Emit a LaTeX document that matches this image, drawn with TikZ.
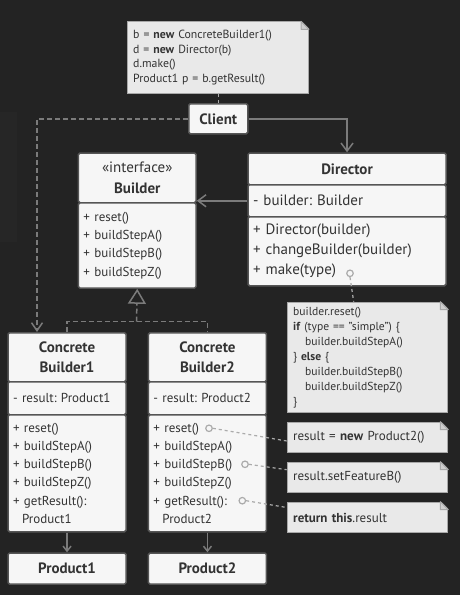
\documentclass[tikz,border=0pt]{standalone}
\usepackage{fontspec}
\setmainfont{PT Sans}
\usetikzlibrary{arrows.meta}

\definecolor{bgcol}{HTML}{232323}
\definecolor{bgshade}{HTML}{262626}
\definecolor{boxfill}{HTML}{F6F6F6}
\definecolor{boxline}{HTML}{555555}
\definecolor{txt}{HTML}{333333}
\definecolor{conn}{HTML}{7B7B7B}
\definecolor{notefill}{HTML}{E9E9E9}
\definecolor{noteline}{HTML}{A8A8A8}
\definecolor{foldfill}{HTML}{CFCFCF}
\definecolor{dotline}{HTML}{ABABAB}

\tikzset{Part/.style = {draw = boxline, fill = boxfill, line width = 1.5pt,
    rounded corners = 1.5pt, anchor = north west, inner xsep = 5pt,
    inner ysep = 0pt, text = txt, align = left,
    font = \fontsize{13}{18.3}\selectfont}}
\tikzset{Head/.style = {Part, align = center,
    font = \fontsize{15}{19.5}\selectfont\bfseries}}
\tikzset{Note/.style = {draw = noteline, fill = notefill, line width = 1pt,
    anchor = north west, inner xsep = 6pt, inner ysep = 0pt, text = txt,
    align = left}}
\tikzset{Dot/.style = {circle, draw = dotline, fill = boxfill, line width = 1.2pt,
    minimum size = 6.5pt, inner sep = 0pt}}
\tikzset{Conn/.style = {draw = conn, line width = 1.5pt}}
\tikzset{Assoc/.style = {Conn, -{Straight Barb[length = 8pt, width = 12pt]}}}
\tikzset{Dep/.style = {Conn, dash pattern = on 5pt off 3pt,
    -{Straight Barb[length = 8pt, width = 11pt]}}}
\tikzset{Hier/.style = {Conn, dash pattern = on 5pt off 3pt}}
\tikzset{Inherit/.style = {Hier, -{Triangle[open, length = 15pt, width = 18pt]}}}
\tikzset{Makes/.style = {Conn, -{Straight Barb[length = 5pt, width = 8pt]}}}
\tikzset{NoteLink/.style = {draw = dotline, line width = 1.2pt,
    dash pattern = on 3pt off 3pt}}

\begin{document}
\frenchspacing
\begin{tikzpicture}[x = 1pt, y = -1pt]
  \useasboundingbox[fill = bgcol] (0, 0) rectangle (460, 595);
  \fill[bgshade] (0, 111.7) rectangle (16.7, 241.7);

  % client and its note
  \node[Note, text width = 169.3pt, minimum height = 71.7pt,
  font = \fontsize{11.8}{14.5}\selectfont] (n1) at (126.7, 21.3)
  {b = \textbf{new} ConcreteBuilder1()\\ d = \textbf{new} Director(b)\\
    d.make()\\ Product1 p = b.getResult()};
  \node[Head, text width = 49pt, minimum height = 30pt] (client) at (188, 103)
  {Client};

  % builder interface
  \node[Part, align = center, text width = 107.6pt, minimum height = 49.7pt,
  font = \fontsize{15}{21}\selectfont] (bhead) at (77.7, 152.3)
  {«interface»\\ \textbf{Builder}};
  \node[Part, text width = 107.6pt, minimum height = 85.3pt] (bmeth)
  at (77.7, 202) {+ reset()\\ + buildStepA()\\ + buildStepB()\\ + buildStepZ()};

  % director
  \node[Head, text width = 188pt, minimum height = 31.7pt] (dhead)
  at (247.3, 152.3) {Director};
  \node[Part, text width = 188pt, minimum height = 32pt,
  font = \fontsize{15}{20}\selectfont] (dattr) at (247.3, 184)
  {- builder: Builder};
  \node[Part, text width = 188pt, minimum height = 69pt,
  font = \fontsize{15}{20}\selectfont] (dmeth) at (247.3, 216)
  {+ Director(builder)\\ + changeBuilder(builder)\\ + make(type)};
  \node[Dot] (mk) at (350, 273.3) {};

  % concrete builders
  \node[Head, text width = 108pt, minimum height = 49pt] (cb1head) at (7.3, 332)
  {Concrete\\ Builder1};
  \node[Part, text width = 108pt, minimum height = 33pt] (cb1attr) at (7.3, 381)
  {- result: Product1};
  \node[Part, text width = 108pt, minimum height = 117pt] (cb1meth)
  at (7.3, 414) {+ reset()\\ + buildStepA()\\ + buildStepB()\\
    + buildStepZ()\\ + getResult():\\ \hspace*{9pt}Product1};

  \node[Head, text width = 108pt, minimum height = 49pt] (cb2head)
  at (147.7, 332) {Concrete\\ Builder2};
  \node[Part, text width = 108pt, minimum height = 33pt] (cb2attr)
  at (147.7, 381) {- result: Product2};
  \node[Part, text width = 108pt, minimum height = 117pt] (cb2meth)
  at (147.7, 414) {+ reset()\\ + buildStepA()\\ + buildStepB()\\
    + buildStepZ()\\ + getResult():\\ \hspace*{9pt}Product2};
  \node[Dot] (rst) at (209, 428.3) {};
  \node[Dot] (stb) at (245, 464.3) {};
  \node[Dot] (grs) at (242.3, 500.7) {};

  % products
  \node[Head, text width = 108pt, minimum height = 31pt] (prod1) at (7.3, 552.3)
  {Product1};
  \node[Head, text width = 108pt, minimum height = 31pt] (prod2)
  at (147.7, 552.3) {Product2};

  % notes on the right
  \node[Note, text width = 148.6pt, minimum height = 110.6pt,
  font = \fontsize{11.6}{15}\selectfont] (n2) at (286.7, 301.7)
  {builder.reset()\\ \textbf{if} (type == "simple") \{\\
    \hspace*{12pt}builder.buildStepA()\\ \} \textbf{else} \{\\
    \hspace*{12pt}builder.buildStepB()\\ \hspace*{12pt}builder.buildStepZ()\\ \}};
  \node[Note, text width = 148.6pt, minimum height = 30.6pt,
  font = \fontsize{13}{16}\selectfont] (n3) at (286.7, 421.7)
  {result = \textbf{new} Product2()};
  \node[Note, text width = 148.6pt, minimum height = 30pt,
  font = \fontsize{13}{16}\selectfont] (n4) at (286.7, 461.7)
  {result.setFeatureB()};
  \node[Note, text width = 148.6pt, minimum height = 30.6pt,
  font = \fontsize{13}{16}\selectfont] (n5) at (286.7, 501.7)
  {\textbf{return this}.result};

  % folded corners
  \foreach \n in {n1, n2, n3, n4, n5} {
    \fill[bgcol] ([xshift = -8pt, yshift = 1pt]\n.north east) --
    ([xshift = 1pt, yshift = 1pt]\n.north east) --
    ([xshift = 1pt, yshift = -8pt]\n.north east) -- cycle;
    \draw[draw = noteline, fill = foldfill, line width = 1pt, join = round]
    ([xshift = -8pt]\n.north east) -- ([yshift = -8pt]\n.north east) --
    ([xshift = -8pt, yshift = -8pt]\n.north east) -- cycle;
  }

  % connectors
  \draw[NoteLink] (client.north) -- (client.north |- n1.south);
  \draw[Assoc] (client.east) -| (dhead.north);
  \draw[Dep] (client.west) -| ([xshift = 29.7pt]cb1head.north west);
  \draw[Assoc] (dattr.west) -- (dattr.west -| bmeth.east);

  \coordinate (hier) at (136.5, 321.7);
  \draw[Hier] (cb1head.north) |- (hier) -| (cb2head.north);
  \draw[Inherit] (hier) -- (bmeth.south);

  \draw[Makes] (cb1meth.south) -- (prod1.north);
  \draw[Makes] (cb2meth.south) -- (prod2.north);

  \draw[NoteLink] (mk.south) -- ([xshift = 67pt]n2.north west);
  \draw[NoteLink] (rst.east) -- ([yshift = -3.5pt]n3.west);
  \draw[NoteLink] (stb.east) -- ([yshift = 7.5pt]n4.west);
  \draw[NoteLink] (grs.east) -- ([yshift = 10pt]n5.west);
\end{tikzpicture}
\end{document}
